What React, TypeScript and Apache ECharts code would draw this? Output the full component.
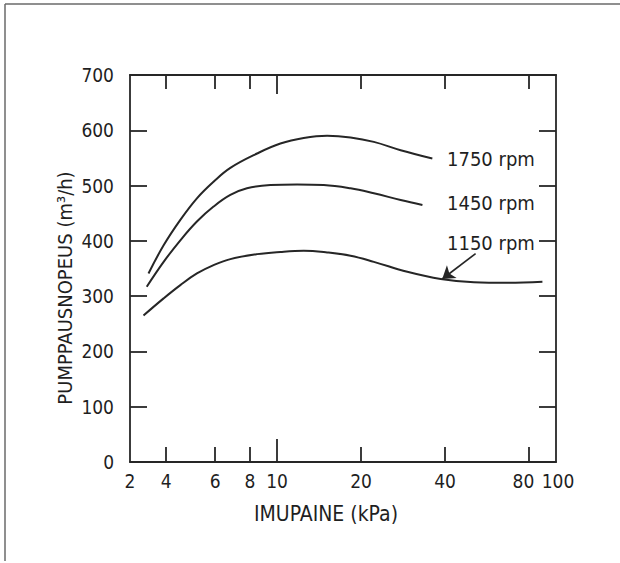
import React, { useEffect, useRef } from "react";
import * as echarts from "echarts";

// X axis: suction pressure (kPa), drawn on a logarithmic scale
const xMinKPa = 2.97; // left edge of the drawn frame (labelled "2" in the original)
const xMaxKPa = 100;
const xMinorTicks = [4, 6, 8, 20, 40, 80];
const xMajorTicks = [10];
const xLabelValues = [4, 6, 8, 10, 20, 40, 80];
const xEndLabelValues = [100];
const xEdgeLabel = "2";

// Y axis: pumping speed (m3/h)
const yMin = 0;
const yMax = 700;
const yInterval = 100;
const yTickValues = [100, 200, 300, 400, 500, 600];

// Curves
const rpm1750X = [3.46, 3.92, 4.5, 5.16, 5.92, 6.8, 8.48, 10.28, 12.46, 15.12, 18.34, 22.23, 27.73, 36.03];
const rpm1750Y = [341, 392, 438, 477, 507, 532, 558, 576, 586, 590, 587, 579, 564, 549];

const rpm1450X = [3.41, 3.92, 4.5, 5.16, 5.92, 6.8, 7.8, 9.46, 11.8, 14.7, 18.34, 22.23, 27.73, 33.2];
const rpm1450Y = [317, 362, 401, 435, 462, 483, 495, 501, 502, 501, 495, 486, 474, 465];

const rpm1150X = [3.32, 3.92, 4.5, 5.16, 5.92, 6.8, 8.48, 10.28, 12.46, 15.12, 18.34, 22.23, 29.3, 38.6, 50.8, 66.9, 89.4];
const rpm1150Y = [265, 296, 320, 341, 356, 367, 376, 380, 382, 379, 373, 362, 344, 331, 325, 324, 326];

const seriesNames = ["1750 rpm", "1450 rpm", "1150 rpm"];

// Arrow pointing from the "1150 rpm" label to its curve (kPa, m3/h)
const arrowFrom = [51.5, 377];
const arrowTo = [39.1, 331];

const xTitle = "IMUPAINE (kPa)";
const yTitle = "PUMPPAUSNOPEUS (m³/h)";

const INK = "#262626";
const TEXT = "#1f1f1f";
const FONT = "'DejaVu Sans Condensed', 'Liberation Sans', sans-serif";
const lg = (v: number) => Math.log10(v);

export default function App() {
  const ref = useRef<HTMLDivElement>(null);

  useEffect(() => {
    if (!ref.current) return;
    const chart = echarts.init(ref.current, undefined, { renderer: "svg" });

    const xMin = lg(xMinKPa);
    const xMax = lg(xMaxKPa);
    const fmtX = (v: number) => {
      if (Math.abs(v - xMin) < 1e-6) return xEdgeLabel;
      const n = Math.round(Math.pow(10, v));
      if (n === 80) return `{l|${n}}`;
      if (n === 100) return `{r|${n}}`;
      return String(n);
    };

    const baseX = {
      type: "value" as const,
      min: xMin,
      max: xMax,
      splitLine: { show: false },
    };
    const lineStyle = { color: INK, width: 1.8 };
    const richBase = { color: TEXT, fontFamily: FONT, fontSize: 19 };
    const xLabelStyle = {
      show: true,
      formatter: fmtX,
      showMinLabel: true,
      showMaxLabel: true,
      hideOverlap: false,
      color: TEXT,
      fontFamily: FONT,
      fontSize: 19,
      margin: 9,
      rich: {
        l: { ...richBase, padding: [0, 11, 0, 0] },
        r: { ...richBase, padding: [0, 0, 0, 4] },
      },
    };

    const pairs = (xs: number[], ys: number[]) => xs.map((x, i) => [lg(x), ys[i]]);

    const lineSeries = (name: string, data: number[][], extra: any = {}) => ({
      name,
      type: "line",
      xAxisIndex: 0,
      yAxisIndex: 0,
      data,
      smooth: 0.4,
      symbol: "none",
      color: INK,
      lineStyle: { color: INK, width: 2 },
      ...extra,
    });

    chart.setOption({
      animation: false,
      backgroundColor: "#ffffff",
      grid: { left: 130, right: 64, top: 75, bottom: 101, containLabel: false },
      xAxis: [
        {
          ...baseX,
          position: "bottom",
          axisLine: { show: true, lineStyle },
          axisTick: {
            show: true,
            inside: true,
            length: 15,
            customValues: xMinorTicks.map(lg),
            lineStyle,
          },
          axisLabel: { ...xLabelStyle, customValues: [xMin, ...xLabelValues.map(lg)] },
        },
        {
          ...baseX,
          position: "bottom",
          axisLine: { show: false },
          axisTick: { show: true, inside: true, length: 23, customValues: xMajorTicks.map(lg), lineStyle },
          axisLabel: { ...xLabelStyle, customValues: xEndLabelValues.map(lg) },
        },
        {
          ...baseX,
          position: "top",
          axisLine: { show: true, lineStyle },
          axisTick: { show: true, inside: true, length: 14, customValues: xMinorTicks.map(lg), lineStyle },
          axisLabel: { show: false },
        },
        {
          ...baseX,
          position: "top",
          axisLine: { show: false },
          axisTick: { show: true, inside: true, length: 19, customValues: xMajorTicks.map(lg), lineStyle },
          axisLabel: { show: false },
        },
      ],
      yAxis: [
        {
          type: "value",
          position: "left",
          min: yMin,
          max: yMax,
          interval: yInterval,
          splitLine: { show: false },
          axisLine: { show: true, lineStyle },
          axisTick: { show: true, inside: true, length: 17, customValues: yTickValues, lineStyle },
          axisLabel: { color: TEXT, fontFamily: FONT, fontSize: 19, margin: 16 },
        },
        {
          type: "value",
          position: "right",
          min: yMin,
          max: yMax,
          interval: yInterval,
          splitLine: { show: false },
          axisLine: { show: true, lineStyle },
          axisTick: { show: true, inside: true, length: 17, customValues: yTickValues, lineStyle },
          axisLabel: { show: false },
        },
      ],
      series: [
        lineSeries(seriesNames[0], pairs(rpm1750X, rpm1750Y)),
        lineSeries(seriesNames[1], pairs(rpm1450X, rpm1450Y)),
        lineSeries(seriesNames[2], pairs(rpm1150X, rpm1150Y), {
          markLine: {
            silent: true,
            symbol: ["none", "arrow"],
            symbolSize: 12,
            label: { show: false },
            itemStyle: { color: INK },
            lineStyle: { color: INK, width: 1.6, type: "solid" },
            data: [
              [
                { coord: [lg(arrowFrom[0]), arrowFrom[1]] },
                { coord: [lg(arrowTo[0]), arrowTo[1]] },
              ],
            ],
          },
        }),
      ],
      graphic: [
        { type: "line", shape: { x1: 5, y1: 4, x2: 5, y2: 561 }, style: { stroke: "#6a6a6a", lineWidth: 1.5 } },
        { type: "line", shape: { x1: 5, y1: 4, x2: 620, y2: 4 }, style: { stroke: "#6a6a6a", lineWidth: 1.5 } },
        {
          type: "text",
          x: 447,
          y: 159,
          style: { text: seriesNames[0], fill: TEXT, font: `20px ${FONT}`, align: "left", verticalAlign: "middle" },
        },
        {
          type: "text",
          x: 447,
          y: 203,
          style: { text: seriesNames[1], fill: TEXT, font: `20px ${FONT}`, align: "left", verticalAlign: "middle" },
        },
        {
          type: "text",
          x: 447,
          y: 243,
          style: { text: seriesNames[2], fill: TEXT, font: `20px ${FONT}`, align: "left", verticalAlign: "middle" },
        },
        {
          type: "text",
          x: 326,
          y: 514,
          style: { text: xTitle, fill: TEXT, font: `21px ${FONT}`, align: "center", verticalAlign: "middle" },
        },
        {
          type: "text",
          x: 65,
          y: 288,
          rotation: Math.PI / 2,
          style: { text: yTitle, fill: TEXT, font: `20px ${FONT}`, align: "center", verticalAlign: "middle" },
        },
      ],
    });

    return () => chart.dispose();
  }, []);

  return (
    <div
      ref={ref}
      style={{ position: "absolute", left: 0, top: 0, width: 620, height: 563, background: "#fff" }}
    />
  );
}
